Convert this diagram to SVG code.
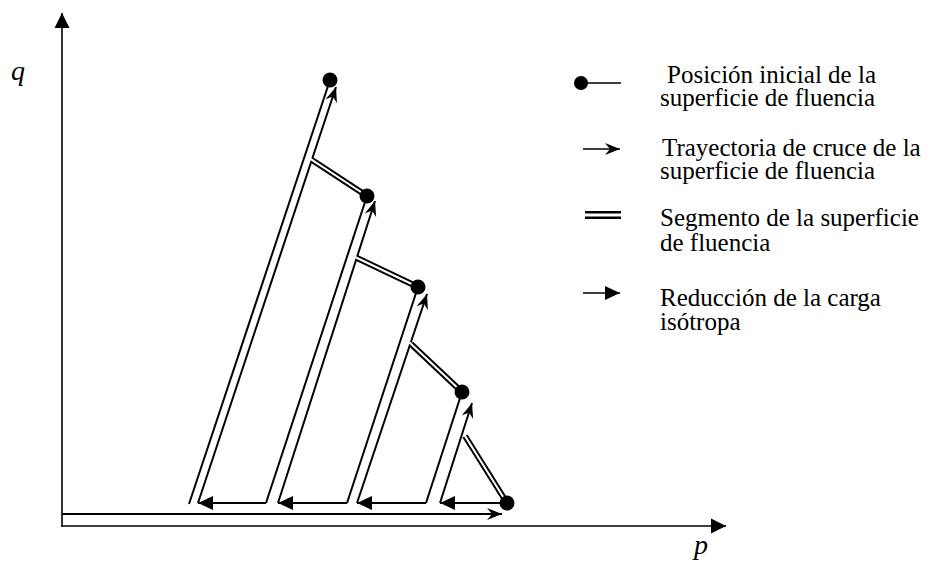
<svg xmlns="http://www.w3.org/2000/svg" width="942" height="563" viewBox="0 0 942 563">
<style>
.ln{stroke:#000;stroke-width:2;fill:none}
.ax{stroke:#000;stroke-width:1.6;fill:none}
.dbo{stroke:#000;stroke-width:6;fill:none}
.dbi{stroke:#fff;stroke-width:2;fill:none}
.dot{fill:#000}
.t{font-family:"Liberation Serif","Times New Roman",Tinos,"DejaVu Serif",serif;font-size:25px;fill:#000}
.lab{font-family:"Liberation Serif","Times New Roman",Tinos,"DejaVu Serif",serif;font-size:28px;font-style:italic;fill:#000}
</style>
<defs>
<marker id="barb" markerUnits="userSpaceOnUse" viewBox="-16 -8 17 16" markerWidth="17" markerHeight="16" refX="0" refY="0" orient="auto">
<path d="M0,0 L-15,-6 L-10,0 L-15,6 Z" fill="#000"/>
</marker>
<marker id="tri" markerUnits="userSpaceOnUse" viewBox="-16 -8 17 16" markerWidth="17" markerHeight="16" refX="0" refY="0" orient="auto">
<path d="M0,0 L-15,-7 L-15,7 Z" fill="#000"/>
</marker>
<marker id="axh" markerUnits="userSpaceOnUse" viewBox="-16 -8 17 16" markerWidth="17" markerHeight="16" refX="0" refY="0" orient="auto">
<path d="M0,0 L-15,-7.5 L-15,7.5 Z" fill="#000"/>
</marker>
</defs>

<g id="axes">
<line class="ax" x1="62" y1="527" x2="62" y2="13" marker-end="url(#axh)"/>
<line class="ax" x1="61.2" y1="526" x2="726" y2="526" marker-end="url(#axh)"/>
<text class="lab" x="11" y="80">q</text>
<text class="lab" x="694" y="554">p</text>
</g>

<g id="connectors">
<!-- initial position lines -->
<line class="ln" x1="189" y1="504" x2="330" y2="80"/>
<line class="ln" x1="266" y1="503" x2="367" y2="196"/>
<line class="ln" x1="347" y1="503" x2="418" y2="287"/>
<line class="ln" x1="426" y1="503" x2="462" y2="392"/>
<!-- crossing trajectories -->
<line class="ln" x1="198" y1="503" x2="336" y2="87" marker-end="url(#barb)"/>
<line class="ln" x1="278" y1="503" x2="375" y2="201" marker-end="url(#barb)"/>
<line class="ln" x1="357" y1="503" x2="427" y2="294" marker-end="url(#barb)"/>
<line class="ln" x1="440" y1="503" x2="472" y2="403" marker-end="url(#barb)"/>
<line class="ln" x1="62" y1="514" x2="502" y2="514" marker-end="url(#barb)"/>
<!-- isotropic load reduction -->
<line class="ln" x1="266" y1="503" x2="198" y2="503" marker-end="url(#tri)"/>
<line class="ln" x1="347" y1="503" x2="278" y2="503" marker-end="url(#tri)"/>
<line class="ln" x1="426" y1="503" x2="357" y2="503" marker-end="url(#tri)"/>
<line class="ln" x1="507" y1="503" x2="440" y2="503" marker-end="url(#tri)"/>
<!-- yield surface segments -->
<line class="dbo" x1="312" y1="160" x2="367" y2="196"/>
<line class="dbi" x1="310" y1="158.7" x2="367" y2="196"/>
<line class="dbo" x1="357" y1="258" x2="418" y2="287"/>
<line class="dbi" x1="355" y1="257" x2="418" y2="287"/>
<line class="dbo" x1="411" y1="344" x2="462" y2="392"/>
<line class="dbi" x1="409.5" y1="342.6" x2="462" y2="392"/>
<line class="dbo" x1="465" y1="436" x2="507" y2="503"/>
<line class="dbi" x1="464" y1="434.4" x2="507" y2="503"/>
</g>

<g id="n1"><circle class="dot" cx="330" cy="80" r="7.5"/></g>
<g id="n2"><circle class="dot" cx="367" cy="196" r="7.5"/></g>
<g id="n3"><circle class="dot" cx="418" cy="287" r="7.5"/></g>
<g id="n4"><circle class="dot" cx="462" cy="392" r="7.5"/></g>
<g id="n5"><circle class="dot" cx="507" cy="503" r="7.5"/></g>

<g id="legend">
<circle class="dot" cx="581" cy="83" r="7"/>
<line class="ax" x1="581" y1="83" x2="621" y2="83"/>
<text class="t" x="667" y="83">Posición inicial de la</text>
<text class="t" x="660" y="106">superficie de fluencia</text>

<line class="ax" x1="583" y1="149" x2="620" y2="149" marker-end="url(#barb)"/>
<text class="t" x="662" y="156">Trayectoria de cruce de la</text>
<text class="t" x="660" y="179">superficie de fluencia</text>

<line stroke="#000" stroke-width="2.4" x1="585" y1="212.3" x2="621" y2="212.3"/>
<line stroke="#000" stroke-width="2.4" x1="585" y1="217.7" x2="621" y2="217.7"/>
<text class="t" x="660" y="226">Segmento de la superficie</text>
<text class="t" x="660" y="251">de fluencia</text>

<line class="ax" x1="583" y1="293" x2="620" y2="293" marker-end="url(#tri)"/>
<text class="t" x="660" y="306">Reducción de la carga</text>
<text class="t" x="660" y="330">isótropa</text>
</g>
</svg>
